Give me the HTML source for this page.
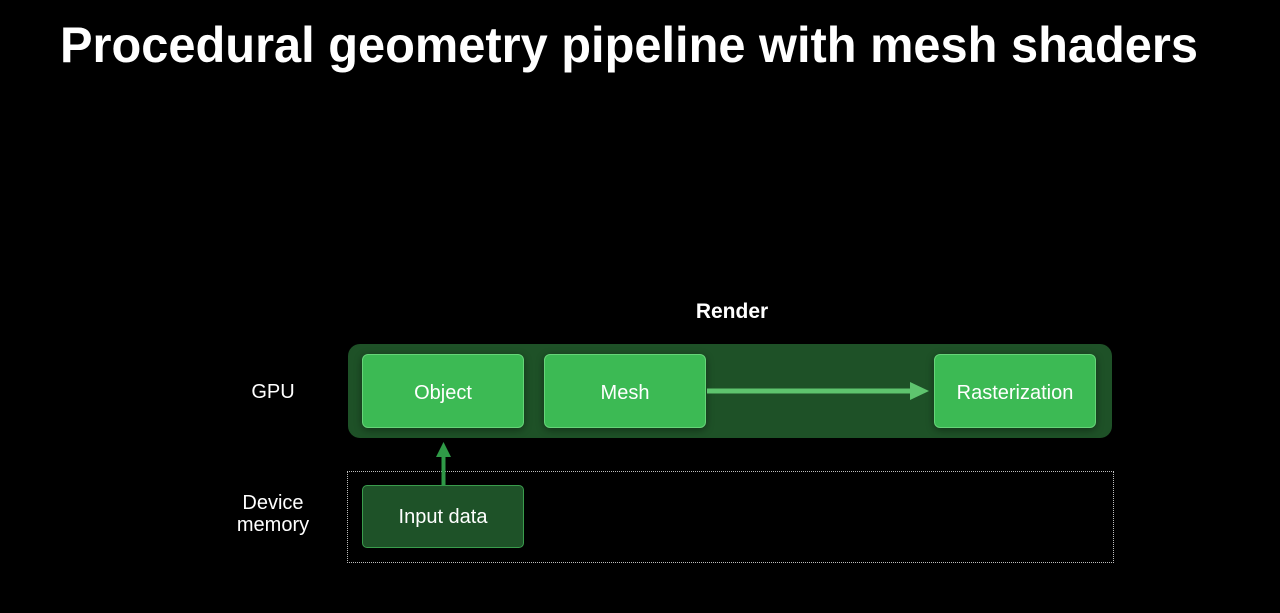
<!DOCTYPE html>
<html><head><meta charset="utf-8"><style>
html,body{margin:0;padding:0;background:#000;}
body{width:1280px;height:613px;position:relative;overflow:hidden;font-family:"Liberation Sans",sans-serif;color:#fff;}
.abs{position:absolute;}
.outer{left:348px;top:344px;width:764px;height:94px;background:#1e5127;border-radius:12px;}
.node{position:absolute;width:160px;height:72px;top:354px;background:#3cba54;border:1px solid #66d478;border-radius:6px;box-shadow:0 2px 8px rgba(0,0,0,0.4);display:flex;align-items:center;justify-content:center;font-size:20px;color:#fff;padding-top:3px;box-sizing:content-box;}
.node span,.inp span{position:relative;top:1px;}
.inp{position:absolute;left:362px;top:485px;width:160px;height:61px;background:#1e5228;border:1px solid #3a9c4c;border-radius:5px;display:flex;align-items:center;justify-content:center;font-size:20px;color:#fff;}
.dotted{left:347px;top:471px;width:765px;height:90px;border:1px dotted #bdbdbd;}
.lbl{position:absolute;font-size:20px;text-align:center;line-height:22px;}
</style></head><body>
<svg class="abs" style="left:0;top:0" width="1280" height="100">
<text x="60" y="62" font-family="Liberation Sans, sans-serif" font-weight="bold" font-size="50" fill="#fff" textLength="1138" lengthAdjust="spacingAndGlyphs">Procedural geometry pipeline with mesh shaders</text>
</svg>
<div class="lbl" style="left:672px;top:301px;width:120px;font-size:21px;font-weight:bold;">Render</div>
<div class="lbl" style="left:213px;top:381px;width:120px;">GPU</div>
<div class="lbl" style="left:213px;top:492px;width:120px;">Device<br>memory</div>
<div class="abs dotted"></div>
<div class="abs outer"></div>
<div class="node" style="left:362px;height:69px;"><span>Object</span></div>
<div class="node" style="left:544px;height:69px;"><span>Mesh</span></div>
<div class="node" style="left:934px;height:69px;"><span>Rasterization</span></div>
<div class="inp"><span>Input data</span></div>
<svg class="abs" style="left:0;top:0" width="1280" height="613">
<rect x="707" y="388.5" width="205" height="5" fill="#5ec46e"/>
<polygon points="910,382 929,391 910,400" fill="#5ec46e"/>
<rect x="441.5" y="455" width="4" height="31" fill="#2f9a47"/>
<polygon points="436,457 443.5,442 451,457" fill="#2f9a47"/>
</svg>
</body></html>
